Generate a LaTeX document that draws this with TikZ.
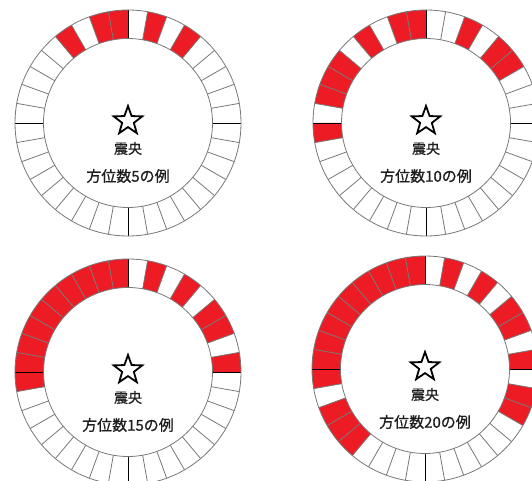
\documentclass[tikz,border=0pt]{standalone}
\usepackage{fontspec}
\newfontfamily\cjk[FakeBold=0.8]{Noto Sans CJK JP}
\usetikzlibrary{shapes.geometric}
\definecolor{eqred}{RGB}{237,28,36}
\definecolor{segline}{RGB}{120,120,120}
\definecolor{txt}{RGB}{30,30,30}
\tikzset{
  seg/.style={fill=eqred},
  sep/.style={draw=segline, line width=0.8pt},
  axisline/.style={draw=black, line width=0.8pt},
  epistar/.style={star, star points=5, star point ratio=2.45, minimum size=30pt, inner sep=0pt, draw=black, fill=white, line width=1.8pt},
  smalllabel/.style={font=\cjk\fontsize{14}{14}\selectfont, text=txt, inner sep=0pt},
  biglabel/.style={font=\cjk\fontsize{15}{15}\selectfont, text=txt, inner sep=0pt}
}
\newcommand\quakering[5]{% name, cx, cy, red segments, label
  \begin{scope}[shift={(#2,#3)}]
    \foreach \k in {#4} {
      \pgfmathsetmacro\aa{80-10*\k}
      \pgfmathsetmacro\bb{90-10*\k}
      \path[seg] (\aa:113) arc[start angle=\aa, end angle=\bb, radius=113]
        -- (\bb:84.5) arc[start angle=\bb, end angle=\aa, radius=84.5] -- cycle;
    }
    \foreach \a in {0,10,...,350} {
      \path[sep] (\a:84.5) -- (\a:113);
    }
    \foreach \a in {0,90,180,270} {
      \path[axisline] (\a:84.5) -- (\a:113);
    }
    \path[sep] (0,0) circle[radius=84.5];
    \path[sep] (0,0) circle[radius=113];
    \node[epistar] (#1star) at (0,2) {};
    \node[smalllabel] (#1epi) at (0,-25.5) {震央};
    \node[biglabel] (#1lab) at (0,-53) {#5};
  \end{scope}
}
\begin{document}
\begin{tikzpicture}[x=1pt,y=1pt]
\useasboundingbox (0,0) rectangle (532,480);
\clip (0,0) rectangle (532,480);
\quakering{tl}{128}{357}{35,34,32,1,3}{方位数5の例}
\quakering{tr}{426}{357}{26,28,29,30,32,34,35,2,4,5}{方位数10の例}
\quakering{bl}{128}{108}{26,27,28,29,30,31,32,33,34,35,1,3,5,6,8}{方位数15の例}
\quakering{br}{425}{111}{22,23,24,26,27,28,29,30,31,32,33,34,35,1,3,5,6,8,10,11}{方位数20の例}
\end{tikzpicture}
\end{document}
